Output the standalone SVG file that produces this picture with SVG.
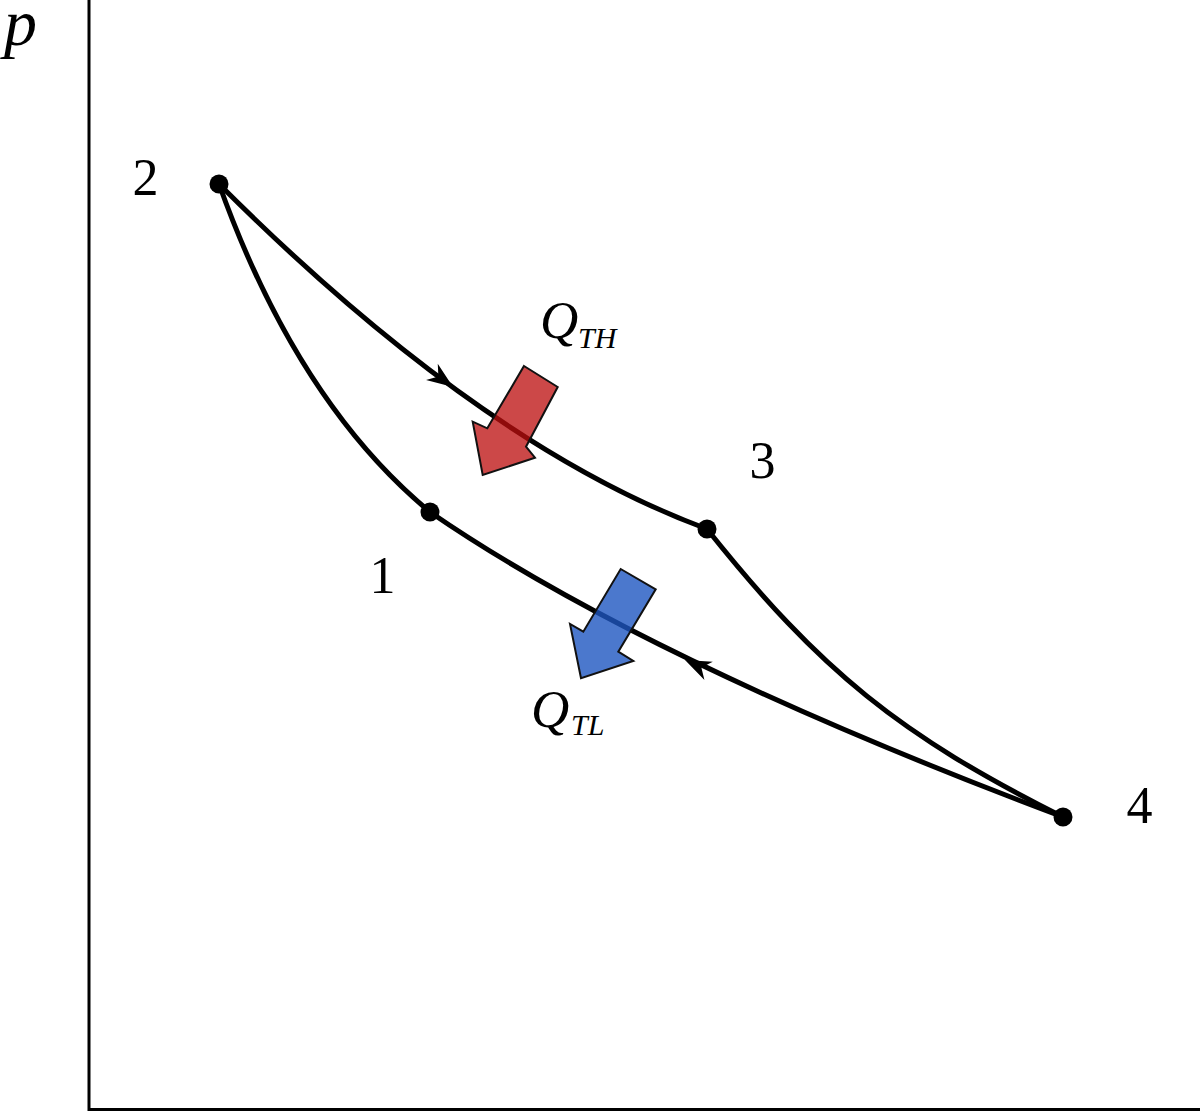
<svg xmlns="http://www.w3.org/2000/svg" width="1200" height="1113" viewBox="0 0 1200 1113">
<defs>
<style>
.curve{fill:none;stroke:#000;stroke-width:5;stroke-linecap:round}
.axis{fill:none;stroke:#000;stroke-width:3}
.dot{fill:#000}
.num{font-size:52px;fill:#000;text-anchor:middle}
.ital{font-style:italic;fill:#000}
.heat{stroke:#111;stroke-width:2;stroke-linejoin:miter}
</style>
<path id="ah" d="M0,0 L-26,-10 L-18,0 L-26,10 Z" fill="#000"/>
</defs>
<rect width="1200" height="1113" fill="#fff"/>
<g id="axes">
<path class="axis" d="M89,0 V1109.5 H1200"/>
<text class="ital" font-family="Liberation Serif, Times New Roman, serif" x="4" y="45" font-size="66">p</text>
</g>
<g id="connectors">
<path id="c21" class="curve" d="M219,184 Q297,402 430,512"/>
<path id="c23" class="curve" d="M219,184 Q480,445 707,529"/>
<path id="c14" class="curve" d="M430,512 Q645,660 1063,817"/>
<path id="c34" class="curve" d="M707,529 C821,672 900,735 1063,817"/>
<use href="#ah" transform="translate(453,387) rotate(35.8)"/>
<use href="#ah" transform="translate(685,660) rotate(204.7)"/>
</g>
<g id="node2">
<circle class="dot" cx="219" cy="184" r="9.5"/>
<text class="num" font-family="Liberation Serif, Times New Roman, serif" x="145.5" y="195">2</text>
</g>
<g id="node1">
<circle class="dot" cx="430" cy="512" r="9.5"/>
<text class="num" font-family="Liberation Serif, Times New Roman, serif" x="382.5" y="593">1</text>
</g>
<g id="node3">
<circle class="dot" cx="707" cy="529" r="9.5"/>
<text class="num" font-family="Liberation Serif, Times New Roman, serif" x="762.5" y="478">3</text>
</g>
<g id="node4">
<circle class="dot" cx="1063" cy="817" r="9.5"/>
<text class="num" font-family="Liberation Serif, Times New Roman, serif" x="1139.5" y="823">4</text>
</g>
<g id="heatTH">
<polygon class="heat" fill="#bc0f0f" fill-opacity="0.76" points="524,366 557.7,387 526,446.7 535,457.7 482.7,475 472.7,421.7 487.3,428.3"/>
<text class="ital" font-family="Liberation Serif, Times New Roman, serif" x="540" y="338" font-size="53">Q</text>
<text class="ital" font-family="Liberation Serif, Times New Roman, serif" x="578" y="348" font-size="30">TH</text>
</g>
<g id="heatTL">
<polygon class="heat" fill="#1e56c0" fill-opacity="0.8" points="620.7,569 655.7,589.3 618.3,651.7 633.3,661 581,678.3 570,624 583.3,631.7"/>
<text class="ital" font-family="Liberation Serif, Times New Roman, serif" x="531" y="727" font-size="53">Q</text>
<text class="ital" font-family="Liberation Serif, Times New Roman, serif" x="571" y="735" font-size="30">TL</text>
</g>
</svg>
